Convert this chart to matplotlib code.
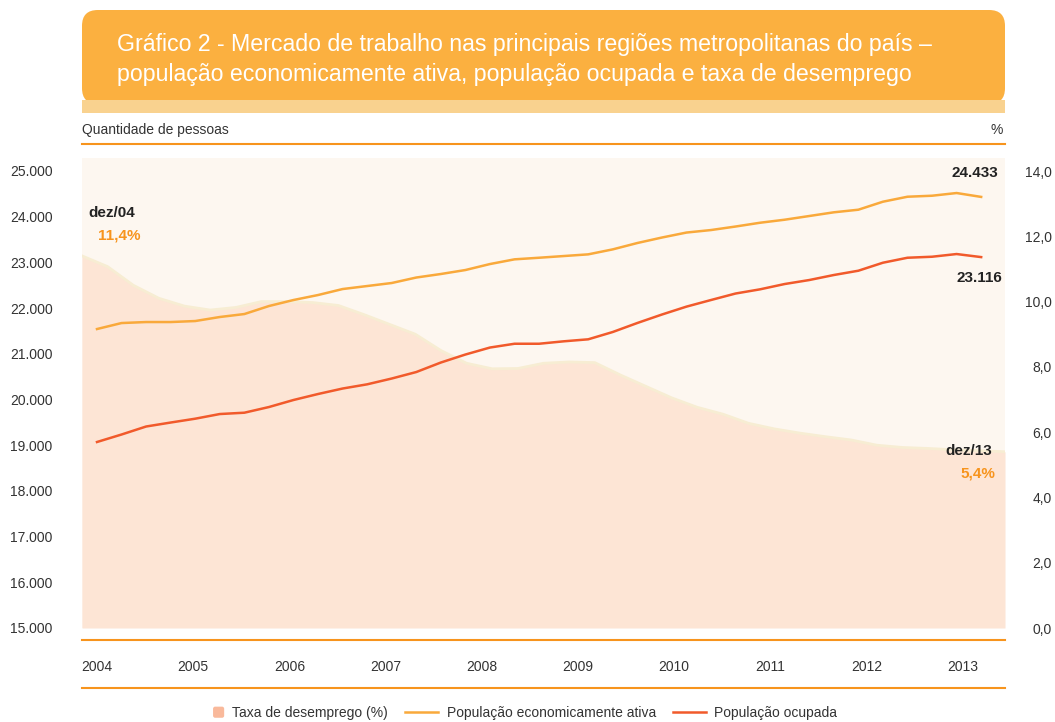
import numpy as np
import matplotlib
matplotlib.use("Agg")
import matplotlib.pyplot as plt
from matplotlib.patches import FancyBboxPatch, Rectangle, Patch
from matplotlib.lines import Line2D
from matplotlib.legend_handler import HandlerPatch

plt.rcParams['font.family'] = ['Liberation Sans', 'DejaVu Sans']

# ---------------- data ----------------
years = ['2004', '2005', '2006', '2007', '2008', '2009', '2010', '2011', '2012', '2013']

# quarterly points, dez/04 .. dez/13
pea = [21542, 21673, 21695, 21695, 21717, 21805, 21870, 22045, 22177, 22286,
       22417, 22483, 22549, 22669, 22746, 22833, 22964, 23067, 23102, 23139,
       23176, 23285, 23424, 23544, 23653, 23708, 23785, 23868, 23934, 24015,
       24096, 24153, 24328, 24437, 24459, 24518, 24433]
ocupada = [19070, 19234, 19409, 19496, 19580, 19682, 19711, 19835, 19989, 20120,
           20240, 20332, 20459, 20601, 20809, 20984, 21137, 21220, 21220, 21273,
           21317, 21477, 21674, 21859, 22032, 22177, 22319, 22411, 22527, 22614,
           22724, 22818, 22993, 23102, 23124, 23183, 23116]
taxa = [11.4, 11.07, 10.5, 10.1, 9.86, 9.74, 9.82, 10.0, 10.0, 9.97,
        9.88, 9.6, 9.3, 9.0, 8.5, 8.11, 7.94, 7.95, 8.11, 8.15,
        8.13, 7.75, 7.4, 7.05, 6.76, 6.55, 6.27, 6.1, 5.97, 5.86,
        5.76, 5.6, 5.53, 5.5, 5.46, 5.43, 5.4]

left_ticks = list(range(15000, 25001, 1000))
right_ticks = [0, 2, 4, 6, 8, 10, 12, 14]

# ---------------- colours ----------------
C_HEAD = '#fbb040'
C_BAND = '#f9d28f'
C_BG = '#fdf7f0'
C_AREA = '#fde5d5'
C_AREA_EDGE = '#f7edd3'
C_PEA = '#f9a93b'
C_OCU = '#f15a2b'
C_RULE = '#f7941d'
C_TXT = '#333333'

W, H = 1055, 722
fig = plt.figure(figsize=(W / 100, H / 100), dpi=100)
fig.patch.set_facecolor('white')


def fx(px):
    return px / W


def fy(py):
    return 1 - py / H


# header
head = FancyBboxPatch((fx(82), fy(104)), fx(1005) - fx(82), fy(10) - fy(104),
                      boxstyle="round,pad=0,rounding_size=0.015",
                      transform=fig.transFigure, facecolor=C_HEAD, edgecolor='none',
                      mutation_aspect=W / H)
fig.add_artist(head)
fig.add_artist(Rectangle((fx(82), fy(113)), fx(1005) - fx(82), fy(100) - fy(113),
                         transform=fig.transFigure, facecolor=C_BAND, edgecolor='none'))
fig.text(fx(117), fy(45), 'Gráfico 2 - Mercado de trabalho nas principais regiões metropolitanas do país –',
         color='white', fontsize=16.7, va='center', ha='left')
fig.text(fx(117), fy(75), 'população economicamente ativa, população ocupada e taxa de desemprego',
         color='white', fontsize=16.7, va='center', ha='left')

fig.text(fx(82), fy(130), 'Quantidade de pessoas', fontsize=10, color=C_TXT, va='center', ha='left')
fig.text(fx(1003), fy(130), '%', fontsize=10, color=C_TXT, va='center', ha='right')

for yy in (144, 640, 688):
    fig.add_artist(Line2D([fx(82), fx(1005)], [fy(yy), fy(yy)], transform=fig.transFigure,
                          color=C_RULE, lw=1.5))

rect = [fx(82), fy(628), fx(1005) - fx(82), fy(158) - fy(628)]

# area axes (rate), spans full width
axa = fig.add_axes(rect)
axa.set_facecolor(C_BG)
xa = np.arange(len(taxa))
axa.fill_between(xa, 0, taxa, color=C_AREA, lw=0)
axa.plot(xa, taxa, color=C_AREA_EDGE, lw=2)
axa.set_xlim(0, len(taxa) - 1)
axa.set_ylim(0, 14 * 470 / 457)
axa.yaxis.tick_right()
axa.set_yticks(right_ticks)
axa.set_yticklabels([f'{v:.1f}'.replace('.', ',') for v in right_ticks])
axa.tick_params(axis='y', length=0, pad=33.8, labelsize=10, labelcolor=C_TXT)
for lbl in axa.get_yticklabels():
    lbl.set_horizontalalignment('right')
axa.set_xticks([])
for s in axa.spines.values():
    s.set_visible(False)

# line axes
ax = fig.add_axes(rect)
ax.patch.set_alpha(0)
xl = np.arange(len(pea))
ax.plot(xl, pea, color=C_PEA, lw=1.8)
ax.plot(xl, ocupada, color=C_OCU, lw=1.8)
step = 24.56
ax.set_xlim(-15 / step, (1005 - 97) / step)
ax.set_ylim(15000, 25000 + 13 / 0.0457)
ax.set_yticks(left_ticks)
ax.set_yticklabels([f'{v:,}'.replace(',', '.') for v in left_ticks])
ax.tick_params(axis='y', length=0, pad=51.8, labelsize=10, labelcolor=C_TXT)
for lbl in ax.get_yticklabels():
    lbl.set_horizontalalignment('left')
ax.set_xticks(np.arange(len(years)) * 96.2 / step)
ax.set_xticklabels(years)
ax.tick_params(axis='x', length=0, pad=23, labelsize=10, labelcolor=C_TXT)
for s in ax.spines.values():
    s.set_visible(False)

# annotations
ax.annotate('dez/04', (0, pea[0]), xytext=(fx(88), fy(213)), textcoords='figure fraction',
            fontsize=11, fontweight='bold', color='#222222', va='center', ha='left')
axa.annotate('11,4%', (0, taxa[0]), xytext=(fx(98), fy(236)), textcoords='figure fraction',
             fontsize=11, fontweight='bold', color=C_RULE, va='center', ha='left')
ax.annotate('24.433', (len(pea) - 1, pea[-1]), xytext=(fx(998), fy(173)), textcoords='figure fraction',
            fontsize=11, fontweight='bold', color='#222222', va='center', ha='right')
ax.annotate('23.116', (len(ocupada) - 1, ocupada[-1]), xytext=(fx(1002), fy(278)), textcoords='figure fraction',
            fontsize=11, fontweight='bold', color='#222222', va='center', ha='right')
axa.annotate('dez/13', (len(taxa) - 1, taxa[-1]), xytext=(fx(992), fy(451)), textcoords='figure fraction',
             fontsize=11, fontweight='bold', color='#222222', va='center', ha='right')
axa.annotate('5,4%', (len(taxa) - 1, taxa[-1]), xytext=(fx(995), fy(473)), textcoords='figure fraction',
             fontsize=11, fontweight='bold', color=C_RULE, va='center', ha='right')


class SquareHandler(HandlerPatch):
    def create_artists(self, legend, orig_handle, xdescent, ydescent, width, height,
                       fontsize, trans):
        s = 8.0
        p = FancyBboxPatch((width - s - xdescent, (height - s) / 2 - ydescent), s, s,
                           boxstyle="round,pad=0,rounding_size=1.5",
                           facecolor=orig_handle.get_facecolor(), edgecolor='none',
                           transform=trans)
        return [p]


sq = Patch(facecolor='#f9b99b', edgecolor='none', label='Taxa de desemprego (%)')
handles = [sq,
           Line2D([], [], color=C_PEA, lw=1.8, label='População economicamente ativa'),
           Line2D([], [], color=C_OCU, lw=1.8, label='População ocupada')]
leg = fig.legend(handles=handles, loc='center', bbox_to_anchor=(fx(514), fy(713)), ncol=3,
                 frameon=False, fontsize=10, handlelength=2.4, handleheight=0.9,
                 columnspacing=1.2, handletextpad=0.6,
                 handler_map={sq: SquareHandler()})
for t in leg.get_texts():
    t.set_color(C_TXT)

fig.savefig('out.png', dpi=100)
